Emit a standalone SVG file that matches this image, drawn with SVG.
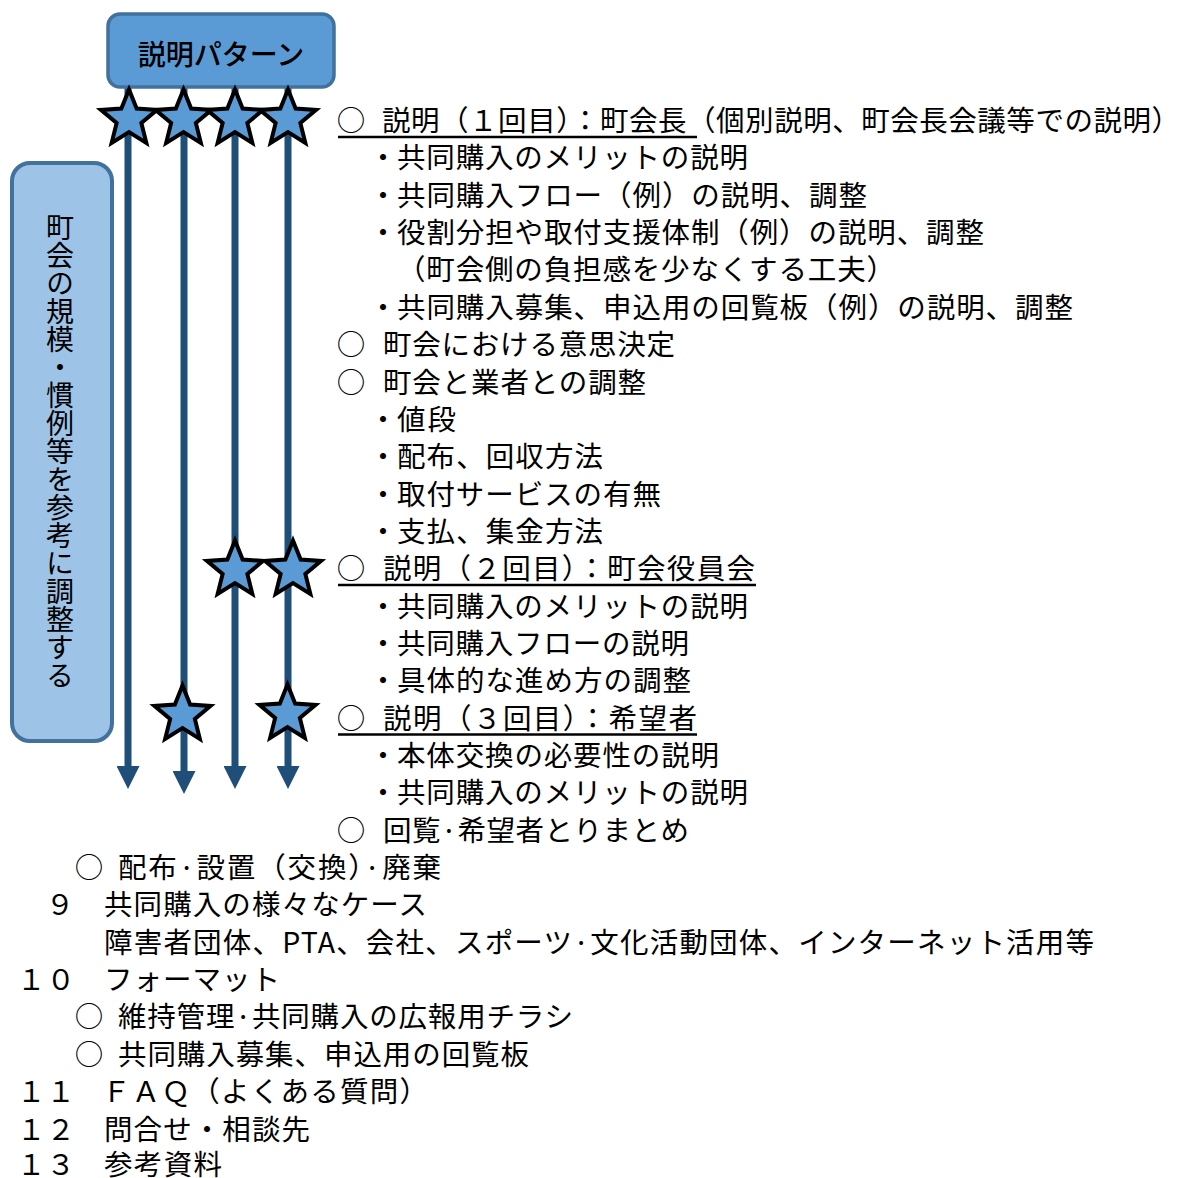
<svg xmlns="http://www.w3.org/2000/svg" width="1182" height="1178" viewBox="0 0 1182 1178">
<defs>
<style>
text{font-family:"Noto Sans CJK JP","Noto Sans CJK SC",sans-serif;fill:#000;}
.t{font-size:28.5px;}
.m{font-size:28.5px;text-anchor:middle;}
.conn{stroke:#1f4e79;stroke-width:7;fill:none;}
.star{fill:#5b9bd5;stroke:#000;stroke-width:4;stroke-linejoin:miter;}
.ul{stroke:#000;stroke-width:2.5;}
</style>
<marker id="ah" viewBox="0 0 23 23" refX="0" refY="11.5" markerWidth="23" markerHeight="23" markerUnits="userSpaceOnUse" orient="auto">
<path d="M0,0 L23,11.5 L0,23 Z" fill="#1f4e79"/>
</marker>
<polygon id="starShape" points="0,-29.5 7.64,-10.52 28.06,-9.12 12.36,4.02 17.34,23.87 0,13 -17.34,23.87 -12.36,4.02 -28.06,-9.12 -7.64,-10.52"/>
</defs>
<rect width="1182" height="1178" fill="#fff"/>

<g id="connectors">
<line class="conn" x1="128" y1="86" x2="128" y2="766" marker-end="url(#ah)"/>
<line class="conn" x1="184" y1="86" x2="184" y2="771" marker-end="url(#ah)"/>
<line class="conn" x1="235" y1="86" x2="235" y2="766" marker-end="url(#ah)"/>
<line class="conn" x1="288" y1="86" x2="288" y2="766" marker-end="url(#ah)"/>
</g>

<g id="node-pattern">
<rect x="108" y="14" width="226" height="73" rx="12" fill="#5b9bd5" stroke="#41719c" stroke-width="3.5"/>
<text x="221" y="65" style="font-size:28px;font-weight:500;text-anchor:middle;">説明パターン</text>
</g>

<g id="node-scale">
<rect x="12" y="163" width="100" height="578" rx="18" fill="#9dc3e6" stroke="#41719c" stroke-width="4"/>
<text x="60" y="213" style="font-size:28px;writing-mode:vertical-rl;">町会の規模・慣例等を参考に調整する</text>
</g>

<g id="stars">
<use href="#starShape" class="star" x="129" y="119"/>
<use href="#starShape" class="star" x="183.5" y="119"/>
<use href="#starShape" class="star" x="235" y="119"/>
<use href="#starShape" class="star" x="288" y="119"/>
<use href="#starShape" class="star" x="235" y="570"/>
<use href="#starShape" class="star" x="293" y="570"/>
<use href="#starShape" class="star" x="182.5" y="715"/>
<use href="#starShape" class="star" x="287.5" y="714"/>
</g>

<g id="outline-text">
<text class="m" x="351" y="131">○</text>
<text class="t" x="382" y="131" textLength="798">説明（１回目）：町会長（個別説明、町会長会議等での説明）</text>
<line class="ul" x1="338" y1="137" x2="697" y2="137"/>
<text class="m" x="383" y="168.4">・</text>
<text class="t" x="397" y="168.4" textLength="351">共同購入のメリットの説明</text>
<text class="m" x="383" y="205.7">・</text>
<text class="t" x="397" y="205.7" textLength="470">共同購入フロー（例）の説明、調整</text>
<text class="m" x="383" y="243.1">・</text>
<text class="t" x="397" y="243.1" textLength="587">役割分担や取付支援体制（例）の説明、調整</text>
<text class="t" x="397" y="280.4" textLength="498">（町会側の負担感を少なくする工夫）</text>
<text class="m" x="383" y="317.8">・</text>
<text class="t" x="397" y="317.8" textLength="676">共同購入募集、申込用の回覧板（例）の説明、調整</text>
<text class="m" x="351" y="355.1">○</text>
<text class="t" x="383" y="355.1" textLength="292">町会における意思決定</text>
<text class="m" x="351" y="392.5">○</text>
<text class="t" x="383" y="392.5" textLength="263">町会と業者との調整</text>
<text class="m" x="383" y="429.8">・</text>
<text class="t" x="397" y="429.8" textLength="59">値段</text>
<text class="m" x="383" y="467.2">・</text>
<text class="t" x="397" y="467.2" textLength="206">配布、回収方法</text>
<text class="m" x="383" y="504.5">・</text>
<text class="t" x="397" y="504.5" textLength="264">取付サービスの有無</text>
<text class="m" x="383" y="541.9">・</text>
<text class="t" x="397" y="541.9" textLength="206">支払、集金方法</text>
<text class="m" x="351" y="579.2">○</text>
<text class="t" x="383" y="579.2" textLength="372">説明（２回目）：町会役員会</text>
<line class="ul" x1="338" y1="585" x2="756" y2="585"/>
<text class="m" x="383" y="616.6">・</text>
<text class="t" x="397" y="616.6" textLength="351">共同購入のメリットの説明</text>
<text class="m" x="383" y="653.9">・</text>
<text class="t" x="397" y="653.9" textLength="292">共同購入フローの説明</text>
<text class="m" x="383" y="691.3">・</text>
<text class="t" x="397" y="691.3" textLength="294">具体的な進め方の調整</text>
<text class="m" x="351" y="728.6">○</text>
<text class="t" x="383" y="728.6" textLength="314">説明（３回目）：希望者</text>
<line class="ul" x1="338" y1="734.6" x2="697" y2="734.6"/>
<text class="m" x="383" y="766">・</text>
<text class="t" x="397" y="766" textLength="322">本体交換の必要性の説明</text>
<text class="m" x="383" y="803.3">・</text>
<text class="t" x="397" y="803.3" textLength="351">共同購入のメリットの説明</text>
<text class="m" x="351" y="840.7">○</text>
<text class="t" x="383" y="840.7" textLength="306">回覧·希望者とりまとめ</text>
<text class="m" x="89" y="878">○</text>
<text class="t" x="118" y="878" textLength="323">配布·設置（交換）·廃棄</text>
<text class="m" x="60" y="915.4">９</text>
<text class="t" x="104" y="915.4" textLength="323">共同購入の様々なケース</text>
<text class="t" x="104" y="952.7" textLength="990">障害者団体、PTA、会社、スポーツ·文化活動団体、インターネット活用等</text>
<text class="t" x="17" y="990" textLength="58">１０</text>
<text class="t" x="104" y="990" textLength="176">フォーマット</text>
<text class="m" x="89" y="1027.4">○</text>
<text class="t" x="118" y="1027.4" textLength="455">維持管理·共同購入の広報用チラシ</text>
<text class="m" x="89" y="1064.8">○</text>
<text class="t" x="118" y="1064.8" textLength="411">共同購入募集、申込用の回覧板</text>
<text class="t" x="17" y="1102.1" textLength="58">１１</text>
<text class="t" x="102" y="1102.1" textLength="326">ＦＡＱ（よくある質問）</text>
<text class="t" x="17" y="1139.5" textLength="58">１２</text>
<text class="t" x="104" y="1139.5" textLength="206">問合せ・相談先</text>
<text class="t" x="17" y="1175" textLength="58">１３</text>
<text class="t" x="104" y="1175" textLength="118">参考資料</text>
</g>
</svg>
